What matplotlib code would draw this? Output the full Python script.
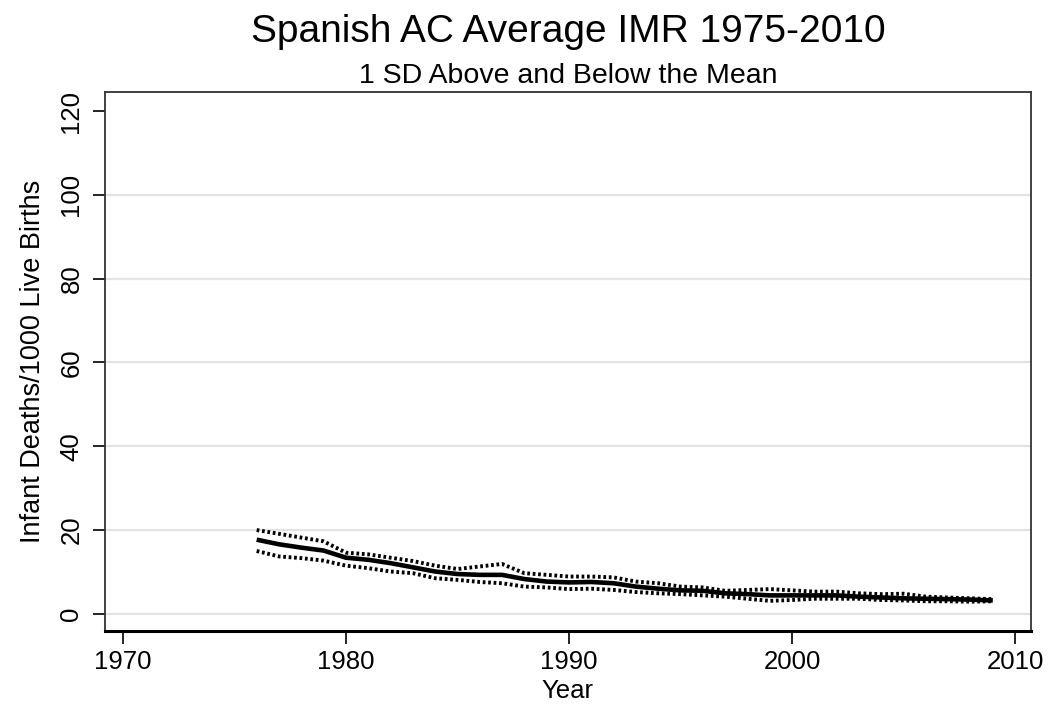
import matplotlib.pyplot as plt

# annual averages
years = list(range(1976, 2010))
mean_imr = [17.7, 16.6, 15.8, 15.1, 13.4, 12.9, 12.1, 11.1, 10.1, 9.5,
            9.3, 9.3, 8.3, 7.7, 7.5, 7.6, 7.3, 6.5, 6.0, 5.6,
            5.5, 4.9, 4.7, 4.4, 4.4, 4.4, 4.4, 4.1, 3.9, 3.7,
            3.6, 3.5, 3.4, 3.2]
upper_sd = [20.0, 19.1, 18.2, 17.3, 14.6, 14.2, 13.4, 12.6, 11.5, 10.7,
            11.3, 11.9, 9.7, 9.3, 8.9, 8.9, 8.7, 7.7, 7.3, 6.5,
            6.3, 5.5, 5.7, 5.9, 5.6, 5.3, 5.3, 4.9, 4.7, 4.8,
            4.1, 3.9, 3.7, 3.5]
lower_sd = [15.0, 13.7, 13.3, 12.7, 11.5, 10.9, 10.1, 9.7, 8.5, 8.1,
            7.6, 7.3, 6.5, 6.3, 5.9, 6.0, 5.7, 5.2, 4.9, 4.7,
            4.4, 4.1, 3.6, 3.1, 3.3, 3.6, 3.6, 3.6, 3.3, 3.2,
            3.0, 3.0, 2.9, 3.0]

x_ticks = [1970, 1980, 1990, 2000, 2010]
y_ticks = [0, 20, 40, 60, 80, 100, 120]

plt.rcParams['font.family'] = ['Liberation Sans', 'DejaVu Sans']

fig = plt.figure(figsize=(10.55, 7.09), dpi=100)
ax = fig.add_axes([0.0995, 0.110, 0.8775, 0.760])

# gridlines (no line at the top tick)
for v in y_ticks[:-1]:
    ax.axhline(v, color='#e3e3e3', lw=1.6, zorder=0)

dots = (0, (0.7, 0.7))
ax.plot(years, upper_sd, color='black', lw=2.8, linestyle=dots)
ax.plot(years, lower_sd, color='black', lw=2.8, linestyle=dots)
ax.plot(years, mean_imr, color='black', lw=3.3, solid_capstyle='butt')

ax.set_xlim(1969.2, 2010.7)
ax.set_ylim(-4.1, 124.5)
ax.set_xticks(x_ticks)
ax.set_yticks(y_ticks)
ax.set_yticklabels([str(v) for v in y_ticks], rotation=90, va='center')
ax.tick_params(axis='both', labelsize=18.5, length=9, width=1.2, colors='black')
ax.tick_params(axis='x', pad=5)
ax.tick_params(axis='y', pad=6.5)

for s in ax.spines.values():
    s.set_color('#333333')
    s.set_linewidth(1.3)
ax.spines['bottom'].set_linewidth(2.2)
ax.spines['bottom'].set_color('black')

ax.set_xlabel('Year', fontsize=18.5, labelpad=3)
ax.set_ylabel('Infant Deaths/1000 Live Births', fontsize=19.5, labelpad=10)

fig.text(0.5384, 0.9408, 'Spanish AC Average IMR 1975-2010', fontsize=28,
         ha='center', va='baseline')
fig.text(0.5384, 0.883, '1 SD Above and Below the Mean', fontsize=20.5,
         ha='center', va='baseline')

fig.savefig('out.png', dpi=100, facecolor='white')
